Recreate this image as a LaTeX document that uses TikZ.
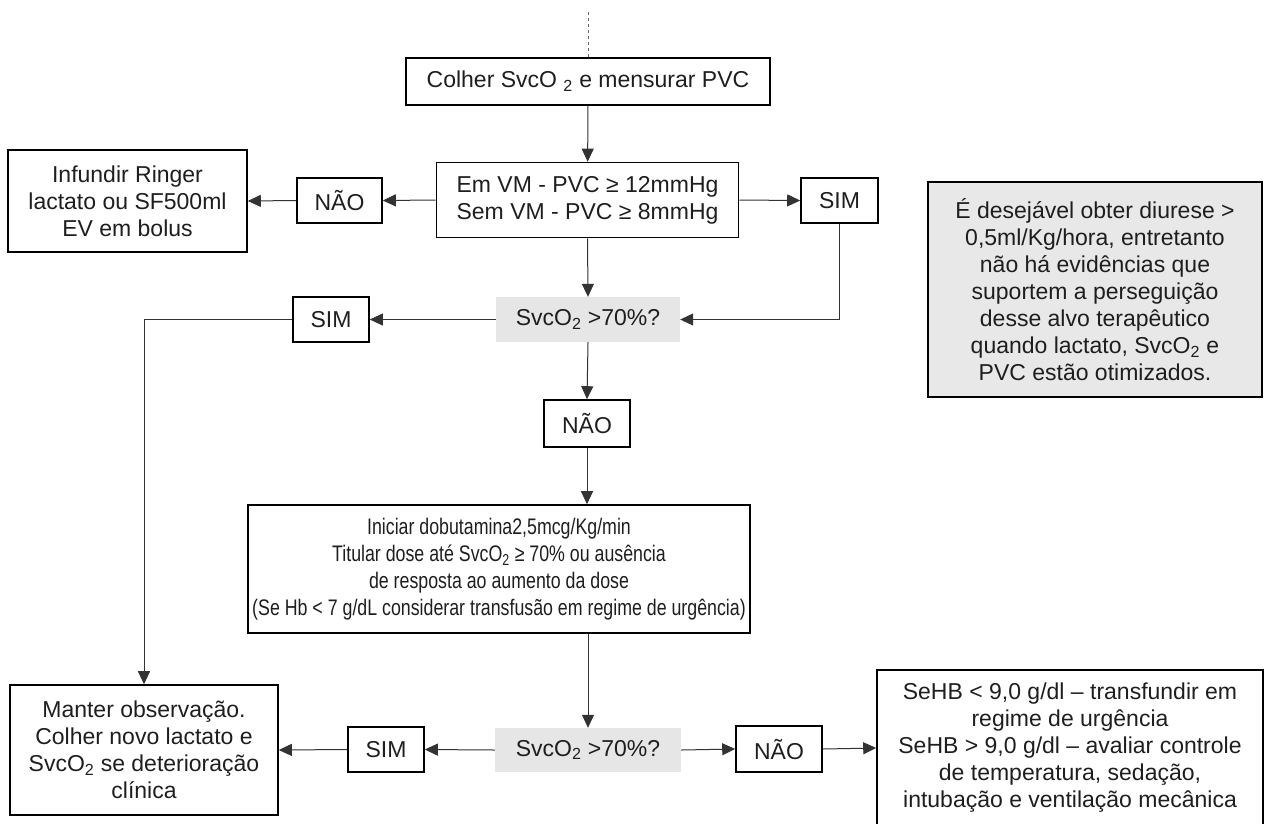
\documentclass[tikz,border=0pt]{standalone}
\usepackage{fontspec}
\setmainfont{Liberation Sans}
\newfontfamily\narrowfont{Liberation Sans}[FakeStretch=0.79]
\usetikzlibrary{arrows.meta}
\definecolor{txt}{HTML}{1E1E1E}
\definecolor{lgray}{HTML}{E6E6E6}
\definecolor{ngray}{HTML}{E8E8E8}
\tikzset{
  box/.style={draw=black, line width=1.6pt, inner sep=0pt, align=center, text=txt,
    font=\fontsize{23}{27}\selectfont},
  qbox/.style={fill=lgray, inner sep=0pt, align=center, text=txt,
    font=\fontsize{23}{27}\selectfont},
  conn/.style={draw=black!80, line width=1pt, -{Triangle[length=13pt,width=12pt]}},
}
\begin{document}
\begin{tikzpicture}[x=1pt,y=-1pt]
\useasboundingbox (0,0) rectangle (1268,823);

\coordinate (top) at (588,12);
\node[box, minimum width=364pt, minimum height=47pt] (c1) at (588,81.5) {Colher SvcO \textsubscript{2} e mensurar PVC};
\node[box, minimum width=302pt, minimum height=75pt] (c2) at (587.5,200) {Em VM - PVC ≥ 12mmHg\\Sem VM - PVC ≥ 8mmHg};
\node[box, minimum width=85pt, minimum height=45pt] (nao1) at (339.5,200.5) {NÃO};
\node[box, minimum width=239pt, minimum height=102pt] (inf) at (127.5,201) {Infundir Ringer\\lactato ou SF500ml\\EV em bolus};
\node[box, minimum width=77pt, minimum height=45pt] (sim1) at (839.5,200.5) {SIM};
\node[qbox, minimum width=184pt, minimum height=45pt] (q1) at (588,319.5) {SvcO\textsubscript{2} >70\%?};
\node[box, minimum width=76pt, minimum height=45pt] (sim2) at (331,319.5) {SIM};
\node[box, minimum width=86pt, minimum height=47pt] (nao2) at (587,423.5) {NÃO};
\node[box, minimum width=502pt, minimum height=128pt, font=\narrowfont\fontsize{22.5}{27}\selectfont] (big) at (499,569)
  {Iniciar dobutamina2,5mcg/Kg/min\\Titular dose até SvcO\textsubscript{2} ≥ 70\% ou ausência\\de resposta ao aumento da dose\\(Se Hb < 7 g/dL considerar transfusão em regime de urgência)};
\node[qbox, minimum width=186pt, minimum height=44pt] (q2) at (588,750) {SvcO\textsubscript{2} >70\%?};
\node[box, minimum width=76pt, minimum height=45pt] (sim3) at (386,749.5) {SIM};
\node[box, minimum width=86pt, minimum height=46pt] (nao3) at (779,749) {NÃO};
\node[box, minimum width=268pt, minimum height=130pt] (man) at (144,750) {Manter observação.\\Colher novo lactato e\\SvcO\textsubscript{2} se deterioração\\clínica};
\node[box, minimum width=386pt, minimum height=156pt] (hb) at (1070,748) {SeHB < 9,0 g/dl – transfundir em\\regime de urgência\\SeHB > 9,0 g/dl – avaliar controle\\de temperatura, sedação,\\intubação e ventilação mecânica};
\node[box, fill=ngray, minimum width=334pt, minimum height=215pt] (note) at (1095,289.5) {É desejável obter diurese >\\0,5ml/Kg/hora, entretanto\\não há evidências que\\suportem a perseguição\\desse alvo terapêutico\\quando lactato, SvcO\textsubscript{2} e\\PVC estão otimizados.};

\draw[draw=black!60, line width=1pt, dashed] (top) -- (c1.north);
\draw[conn] (c1) -- (c2);
\draw[conn] (c2.west) -- (nao1.east);
\draw[conn] (nao1.west) -- (inf.east);
\draw[conn] (c2.east) -- (sim1.west);
\draw[conn] (sim1.south) |- (q1.east);
\draw[conn] (c2.south) -- (q1.north);
\draw[conn] (q1.west) -- (sim2.east);
\draw[conn] (sim2.west) -| (man.north);
\draw[conn] (q1.south) -- (nao2.north);
\draw[conn] (nao2.south) -- (nao2.south |- big.north);
\draw[conn] (q2.north |- big.south) -- (q2.north);
\draw[conn] (q2.west) -- (sim3.east);
\draw[conn] (sim3.west) -- (man.east);
\draw[conn] (q2.east) -- (nao3.west);
\draw[conn] (nao3.east) -- (hb.west);
\end{tikzpicture}
\end{document}
